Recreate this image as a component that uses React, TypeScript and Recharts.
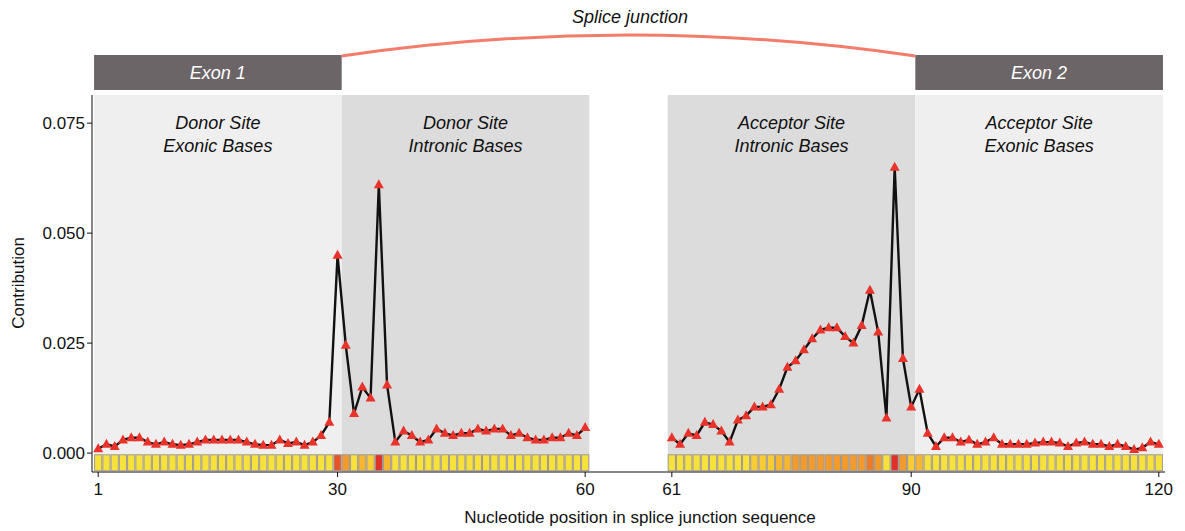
import React from "react";
import { ComposedChart, Line, Scatter, XAxis, YAxis, ReferenceArea } from "recharts";

const leftValues = [0.001,0.002,0.0015,0.003,0.0035,0.0035,0.0025,0.002,0.0025,0.002,0.0018,0.002,0.0025,0.003,0.003,0.003,0.003,0.003,0.0025,0.002,0.0018,0.0018,0.003,0.0022,0.0025,0.0018,0.0025,0.004,0.007,0.045,0.0245,0.009,0.015,0.0125,0.061,0.0155,0.0025,0.005,0.004,0.0025,0.003,0.0055,0.0045,0.004,0.0045,0.0045,0.0055,0.005,0.0055,0.0055,0.004,0.0045,0.0035,0.003,0.003,0.0035,0.0035,0.0045,0.004,0.0058];
const rightValues = [0.0035,0.002,0.0045,0.004,0.007,0.0065,0.005,0.0025,0.0075,0.0085,0.0105,0.0105,0.011,0.0145,0.0195,0.021,0.0235,0.026,0.028,0.0285,0.0285,0.0265,0.025,0.029,0.037,0.0275,0.008,0.065,0.0215,0.0105,0.0145,0.0045,0.0015,0.0035,0.0035,0.0025,0.003,0.002,0.0025,0.0035,0.002,0.002,0.002,0.002,0.0023,0.0025,0.0025,0.0023,0.0015,0.0023,0.0025,0.002,0.002,0.0015,0.002,0.0015,0.0008,0.0012,0.0025,0.002];
const GAP = 9.5;
const tickPositions = [1, 30, 60, 61, 90, 120];
const yTicks = [0, 0.025, 0.05, 0.075];
const regions = [
  { x1: 0.5, x2: 30.5, fill: "#efefef", l1: "Donor Site", l2: "Exonic Bases" },
  { x1: 30.5, x2: 60.5, fill: "#dcdcdc", l1: "Donor Site", l2: "Intronic Bases" },
  { x1: 60.5 + GAP, x2: 90.5 + GAP, fill: "#dcdcdc", l1: "Acceptor Site", l2: "Intronic Bases" },
  { x1: 90.5 + GAP, x2: 120.5 + GAP, fill: "#efefef", l1: "Acceptor Site", l2: "Exonic Bases" },
];

const pos = (p: number) => (p <= 60 ? p : p + GAP);
const leftData = leftValues.map((v, i) => ({ x: pos(i + 1), v }));
const rightData = rightValues.map((v, i) => ({ x: pos(i + 61), v }));
const heatData = [...leftData, ...rightData].map((d) => ({ x: d.x, h: -0.0022, v: d.v }));

const W = 1185, H = 531;
const PL = 92, PR = 1165, PT = 95, PB = 472;
const XMIN = 0.25, XMAX = 130.25;
const YMIN = -0.0043, YMAX = 0.0814;
const sx = (x: number) => PL + ((x - XMIN) / (XMAX - XMIN)) * (PR - PL);
const FONT = "'Liberation Sans', Arial, Helvetica, sans-serif";

const heatColor = (v: number) => {
  if (v >= 0.055) return "#e0302a";
  if (v >= 0.04) return "#e8542a";
  if (v >= 0.033) return "#ec7a26";
  if (v >= 0.02) return "#f39a2c";
  if (v >= 0.0135) return "#f7b630";
  if (v >= 0.0095) return "#f9cc34";
  return "#f7e23c";
};

const Tri = (props: any) => {
  const { cx, cy } = props;
  if (cx == null || cy == null) return null;
  return <polygon points={`${cx},${cy - 5.5} ${cx - 5},${cy + 3.5} ${cx + 5},${cy + 3.5}`} fill="#e8322a" />;
};

const Cell = (props: any) => {
  const { cx, cy, payload } = props;
  return <rect x={cx - 3.6} y={cy - 8} width={7.2} height={16} fill={heatColor(payload.v)} stroke="#a09a90" strokeWidth={1} />;
};

export default function App() {
  return (
    <div style={{ position: "absolute", left: 0, top: 0, width: W, height: H, fontFamily: FONT }}>
      <ComposedChart width={W} height={H} margin={{ top: PT, right: W - PR, bottom: H - PB - 30, left: PL - 60 }}>
        <XAxis type="number" dataKey="x" domain={[XMIN, XMAX]} ticks={tickPositions.map(pos)}
          tickFormatter={(t: number) => String(t > 60 ? Math.round(t - GAP) : t)}
          allowDataOverflow height={30} tick={{ fontSize: 17, fill: "#111", fontFamily: FONT }}
          stroke="#111" tickSize={5} tickMargin={6} />
        <YAxis type="number" domain={[YMIN, YMAX]} ticks={yTicks} allowDataOverflow width={60}
          tickFormatter={(t: number) => t.toFixed(3)} tick={{ fontSize: 17, fill: "#111", fontFamily: FONT }}
          stroke="#111" tickSize={5} />
        {regions.map((r, i) => (
          <ReferenceArea key={i} x1={r.x1} x2={r.x2} y1={YMIN} y2={YMAX} fill={r.fill} fillOpacity={1} stroke="none" ifOverflow="hidden" />
        ))}
        <Scatter data={heatData} dataKey="h" shape={<Cell />} isAnimationActive={false} />
        <Line data={leftData} dataKey="v" stroke="#111" strokeWidth={2.4} dot={<Tri />} activeDot={false} isAnimationActive={false} />
        <Line data={rightData} dataKey="v" stroke="#111" strokeWidth={2.4} dot={<Tri />} activeDot={false} isAnimationActive={false} />
      </ComposedChart>
      <svg width={W} height={H} style={{ position: "absolute", left: 0, top: 0, pointerEvents: "none" }}>
        {regions.map((r, i) => (
          <g key={i} fontStyle="italic" fontSize={18} fill="#111" textAnchor="middle" fontFamily={FONT}>
            <text x={(sx(r.x1) + sx(r.x2)) / 2} y={129}>{r.l1}</text>
            <text x={(sx(r.x1) + sx(r.x2)) / 2} y={152}>{r.l2}</text>
          </g>
        ))}
        <rect x={sx(0.5)} y={55} width={sx(30.5) - sx(0.5)} height={35} fill="#6b6567" />
        <rect x={sx(90.5 + GAP)} y={55} width={sx(120.5 + GAP) - sx(90.5 + GAP)} height={35} fill="#6b6567" />
        <text x={(sx(0.5) + sx(30.5)) / 2} y={79} fill="#fff" fontSize={18} fontStyle="italic" textAnchor="middle" fontFamily={FONT}>Exon 1</text>
        <text x={(sx(90.5 + GAP) + sx(120.5 + GAP)) / 2} y={79} fill="#fff" fontSize={18} fontStyle="italic" textAnchor="middle" fontFamily={FONT}>Exon 2</text>
        <path d={`M ${sx(30.5)} 56 Q ${(sx(30.5) + sx(90.5 + GAP)) / 2} 14 ${sx(90.5 + GAP)} 56`} fill="none" stroke="#f47c6a" strokeWidth={3} />
        <text x={630} y={23} fontSize={18} fontStyle="italic" textAnchor="middle" fill="#111" fontFamily={FONT}>Splice junction</text>
        <text x={0} y={0} transform="translate(24,283) rotate(-90)" fontSize={17} textAnchor="middle" fill="#111" fontFamily={FONT}>Contribution</text>
        <text x={640} y={523} fontSize={17} textAnchor="middle" fill="#111" fontFamily={FONT}>Nucleotide position in splice junction sequence</text>
      </svg>
    </div>
  );
}
